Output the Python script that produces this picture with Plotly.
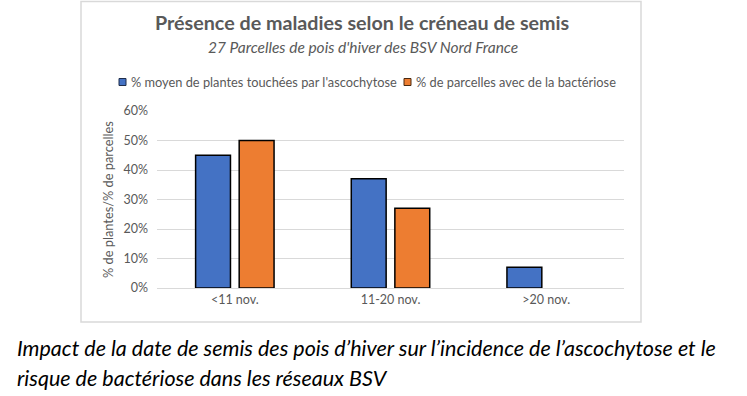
import plotly.graph_objects as go

categories = ["<11 nov.", "11-20 nov.", ">20 nov."]
ascochytose = [0.45, 0.37, 0.07]
bacteriose = [0.50, 0.27, 0.0]
series_names = ["% moyen de plantes touchées par l'ascochytose",
                "% de parcelles avec de la bactériose"]
y_ticks = [0, 0.1, 0.2, 0.3, 0.4, 0.5, 0.6]
y_tick_labels = ["0%", "10%", "20%", "30%", "40%", "50%", "60%"]

W, H = 747, 396
L, R, T, B = 157, 624, 111, 288
pw, ph = R - L, B - T

def px(x):
    return (x - L) / pw

def py(y):
    return (B - y) / ph

FONT = "Lato"
GRAY = "#595959"
BLUE = "#4472C4"
ORANGE = "#ED7D31"

def outline(vals):
    return [1.5 if v > 0 else 0 for v in vals]

fig = go.Figure()
fig.add_trace(go.Bar(x=categories, y=ascochytose, name=series_names[0], showlegend=False,
                     marker=dict(color=BLUE, line=dict(color="black", width=outline(ascochytose)))))
fig.add_trace(go.Bar(x=categories, y=bacteriose, name=series_names[1], showlegend=False,
                     marker=dict(color=ORANGE, line=dict(color="black", width=outline(bacteriose)))))

fig.update_layout(
    width=W, height=H, autosize=False,
    margin=dict(l=L, r=W - R, t=T, b=H - B, pad=0),
    paper_bgcolor="white", plot_bgcolor="white",
    font=dict(family=FONT, color=GRAY, size=12),
    barmode="group", bargap=0.44, bargroupgap=0.2,
    xaxis=dict(showgrid=False, showline=True, linecolor="#D9D9D9", linewidth=1.3,
               ticks="", tickfont=dict(size=12.5, color=GRAY)),
    yaxis=dict(range=[0, 0.6], tickvals=y_ticks, ticktext=y_tick_labels,
               showgrid=True, gridcolor="#D9D9D9", gridwidth=1.3,
               zeroline=False, showline=False, ticks="",
               ticklabelstandoff=8, tickfont=dict(size=12.5, color=GRAY)),
)

def ann(text, x, y, size, color=GRAY, xanchor="center", angle=0):
    fig.add_annotation(text=text, xref="paper", yref="paper", x=px(x), y=py(y),
                       xanchor=xanchor, yanchor="middle", showarrow=False, textangle=angle,
                       font=dict(size=size, color=color, family=FONT))

ann("<b>Présence de maladies selon le créneau de semis</b>", 362, 23, 19.7)
ann("<i>27 Parcelles de pois d'hiver des BSV Nord France</i>", 363, 47, 15.5)
ann("% de plantes/% de parcelles", 108, 200, 12.8, angle=-90)
ann("<i>Impact de la date de semis des pois d’hiver sur l’incidence de l’ascochytose et le</i>",
    15, 348, 21.5, color="black", xanchor="left")
ann("<i>risque de bactériose dans les réseaux BSV</i>", 15, 378, 21.5, color="black", xanchor="left")

# manual legend (single row, as in the reference)
legend_items = [(series_names[0], BLUE, 119), (series_names[1], ORANGE, 404)]
for name, col, x0 in legend_items:
    fig.add_shape(type="rect", xref="paper", yref="paper",
                  x0=px(x0), x1=px(x0 + 7), y0=py(85.5), y1=py(78.5),
                  line=dict(color="#1F2D4A" if col == BLUE else "#4A2A10", width=1), fillcolor=col)
    ann(name, x0 + 10, 82, 12.8, xanchor="left")

fig.add_shape(type="rect", xref="paper", yref="paper",
              x0=px(81), x1=px(641), y0=py(322), y1=py(1.5),
              line=dict(color="#D9D9D9", width=1.5), fillcolor="rgba(0,0,0,0)", layer="below")

fig.write_html("out.html", config={"displayModeBar": False},
               post_script="document.body.style.margin='0';")
